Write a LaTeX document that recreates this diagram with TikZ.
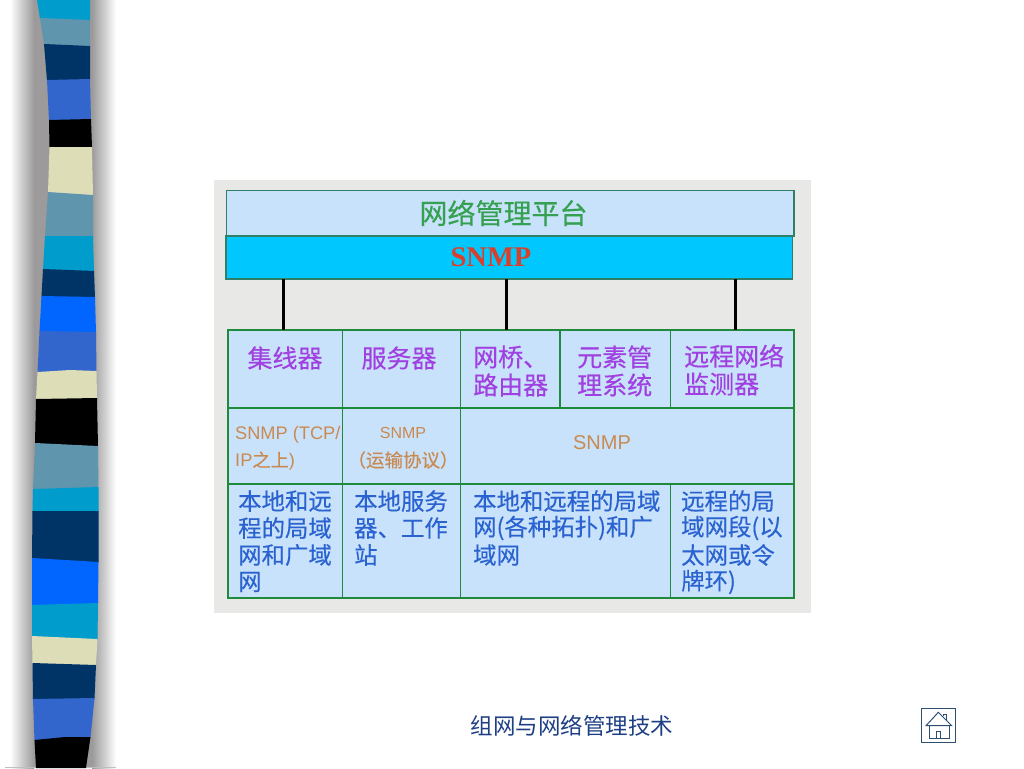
\documentclass[tikz,border=0pt]{standalone}
\usepackage{fontspec}
\setmainfont[FakeBold=0.35]{Noto Sans CJK SC}
\newfontfamily\plaincjk{Noto Sans CJK SC}
\newfontfamily\arialf{Liberation Sans}
\newfontfamily\timesf{Liberation Serif}
\definecolor{cyanb}{HTML}{009CCC}
\definecolor{steel}{HTML}{5F96AE}
\definecolor{navy}{HTML}{003366}
\definecolor{royal}{HTML}{3366CC}
\definecolor{cream}{HTML}{DDDDB8}
\definecolor{bright}{HTML}{0066FF}
\definecolor{shadowg}{HTML}{9C9A9A}
\definecolor{panel}{HTML}{E8E8E6}
\definecolor{cellblue}{HTML}{C8E2FB}
\definecolor{bandcyan}{HTML}{00C8FF}
\definecolor{teal}{HTML}{2F7F68}
\definecolor{gridg}{HTML}{1F8A3C}
\definecolor{titleg}{HTML}{35A050}
\definecolor{redt}{HTML}{D8402C}
\definecolor{purplet}{HTML}{A040E0}
\definecolor{oranget}{HTML}{C88A50}
\definecolor{bluet}{HTML}{2A62D0}
\definecolor{footc}{HTML}{1F3F85}
\definecolor{homec}{HTML}{2F4F70}
\tikzset{
  cellbox/.style={draw=gridg,line width=1.5pt,fill=cellblue,inner sep=0pt,outer sep=0pt},
  topbox/.style={draw=teal,line width=1.5pt,inner sep=0pt,outer sep=0pt},
  conn/.style={draw=black,line width=3pt},
  head/.style={font=\fontsize{25}{27}\selectfont,text=purplet,inner sep=0pt},
  proto/.style={font=\fontsize{18.2}{20}\selectfont,text=oranget,inner sep=0pt},
  body/.style={font=\fontsize{23.4}{25}\selectfont,text=bluet,inner sep=0pt},
  homeline/.style={draw=homec,line width=1pt}
}
\begin{document}
\begin{tikzpicture}[x=1pt,y=-1pt]
\useasboundingbox (0,0) rectangle (1024,768);
\fill[white] (0,0) rectangle (1024,768);
% shadow of the strip
\shade[left color=white,right color=shadowg] (10,0) rectangle (34,768);
\fill[shadowg] (33.5,0) rectangle (92.5,768);
\shade[left color=shadowg,right color=white] (92,0) rectangle (116,768);
\fill[black!25] (5,766.8) rectangle (116,768);
% strip
\fill[cyanb]  (37,0)--(90,0)--(90,20.6)--(40,18.6)--cycle;
\fill[steel]  (40,18)--(90,20)--(90,46.6)--(44,44.6)--cycle;
\fill[navy]   (44,44)--(90,46)--(90,79.6)--(47,80.6)--cycle;
\fill[royal]  (47,80)--(90,79)--(91,119.6)--(49,120.6)--cycle;
\fill[black]  (49,120)--(91,119)--(92,147.6)--(49.5,147.6)--cycle;
\fill[cream]  (49.5,147)--(92,147)--(93,195.6)--(48,192.6)--cycle;
\fill[steel]  (48,192)--(93,195)--(93,236.6)--(45,236.6)--cycle;
\fill[cyanb]  (45,236)--(93,236)--(94,271.6)--(43,269.6)--cycle;
\fill[navy]   (43,269)--(94,271)--(95,297.6)--(41.5,296.6)--cycle;
\fill[bright] (41.5,296)--(95,297)--(96,332.6)--(39.5,331.6)--cycle;
\fill[royal]  (39.5,331)--(96,332)--(96.5,371.6)--(70,370.6)--(37.5,372.6)--cycle;
\fill[cream]  (37.5,372)--(70,370)--(96.5,371)--(97,398.6)--(36,399.6)--cycle;
\fill[black]  (36,399)--(97,398)--(98,446.6)--(35,443.6)--cycle;
\fill[steel]  (35,443)--(98,446)--(98.5,487.6)--(33,489.6)--cycle;
\fill[cyanb]  (33,489)--(98.5,487)--(98.5,511.6)--(32.5,511.6)--cycle;
\fill[navy]   (32.5,511)--(98.5,511)--(98.5,562.6)--(32,558.6)--cycle;
\fill[bright] (32,558)--(98.5,562)--(98,603.6)--(32,605.6)--cycle;
\fill[cyanb]  (32,605)--(98,603)--(97.5,639.6)--(32,636.6)--cycle;
\fill[cream]  (32,636)--(97.5,639)--(96,665.6)--(32.5,663.6)--cycle;
\fill[navy]   (32.5,663)--(96,665)--(94.5,698.6)--(33,699.6)--cycle;
\fill[royal]  (33,699)--(94.5,698)--(90.5,737.6)--(34.5,740.6)--cycle;
\fill[black]  (34.5,740)--(65,737)--(90.5,737)--(86,768)--(36,768)--cycle;
% panel
\fill[panel] (214,180) rectangle (811,613);
% top boxes
\node[topbox,fill=cellblue,minimum width=567.5pt,minimum height=45.5pt] (platform) at (510.25,213.25) {};
\node[font=\fontsize{28}{30}\selectfont,text=titleg,inner sep=0pt] (platformtext) at (503.5,213) {网络管理平台};
\node[topbox,fill=bandcyan,minimum width=566.5pt,minimum height=43pt] (band) at (509.25,257.5) {};
\node[font=\timesf\bfseries\fontsize{28.5}{30}\selectfont,text=redt,inner sep=0pt] (bandtext) at (491,257) {SNMP};
% row 1
\node[cellbox,minimum width=114.5pt,minimum height=78pt] (hub) at (285.25,369) {};
\node[cellbox,minimum width=118pt,minimum height=78pt] (server) at (401.5,369) {};
\node[cellbox,minimum width=99.5pt,minimum height=78pt] (bridge) at (510.25,369) {};
\node[cellbox,minimum width=110.5pt,minimum height=78pt] (element) at (615.25,369) {};
\node[cellbox,minimum width=123.5pt,minimum height=78pt] (remote) at (732.25,369) {};
% row 2
\node[cellbox,minimum width=114.5pt,minimum height=76pt] (p1) at (285.25,446) {};
\node[cellbox,minimum width=118pt,minimum height=76pt] (p2) at (401.5,446) {};
\node[cellbox,minimum width=333.5pt,minimum height=76pt] (p3) at (627.25,446) {};
% row 3
\node[cellbox,minimum width=114.5pt,minimum height=114pt] (s1) at (285.25,541) {};
\node[cellbox,minimum width=118pt,minimum height=114pt] (s2) at (401.5,541) {};
\node[cellbox,minimum width=210pt,minimum height=114pt] (s3) at (565.5,541) {};
\node[cellbox,minimum width=123.5pt,minimum height=114pt] (s4) at (732.25,541) {};
% connectors
\draw[conn] ([xshift=-1.75pt]hub.north |- band.south) -- ([xshift=-1.75pt]hub.north);
\draw[conn] ([xshift=-4.25pt]bridge.north |- band.south) -- ([xshift=-4.25pt]bridge.north);
\draw[conn] ([xshift=2.75pt]remote.north |- band.south) -- ([xshift=2.75pt]remote.north);
% row 1 text
\node[head] (t11) at (285,358) {集线器};
\node[head] (t12) at (399,358) {服务器};
\node[head,anchor=west] (t13a) at (473,357) {网桥、};
\node[head,anchor=west] (t13b) at (473,385) {路由器};
\node[head,anchor=west] (t14a) at (577,357) {元素管};
\node[head,anchor=west] (t14b) at (577,385) {理系统};
\node[head,anchor=west] (t15a) at (684,356) {远程网络};
\node[head,anchor=west] (t15b) at (684,384) {监测器};
% row 2 text
\node[proto,anchor=west] (t21a) at (235,434.5) {\arialf SNMP (TCP/};
\node[proto,anchor=west] (t21b) at (235,461) {\arialf IP\normalfont 之上\arialf )};
\node[proto,font=\arialf\fontsize{16}{18}\selectfont] (t22a) at (403,433) {SNMP};
\node[proto,font=\fontsize{18.5}{20}\selectfont] (t22b) at (403,460) {（运输协议）};
\node[proto,font=\arialf\fontsize{20}{22}\selectfont] (t23) at (602,443) {SNMP};
% row 3 text
\node[body,anchor=west] (a1) at (238,501) {本地和远};
\node[body,anchor=west] (a2) at (238,528) {程的局域};
\node[body,anchor=west] (a3) at (238,555) {网和广域};
\node[body,anchor=west] (a4) at (238,582) {网};
\node[body,anchor=west] (b1) at (354,501) {本地服务};
\node[body,anchor=west] (b2) at (354,528) {器、工作};
\node[body,anchor=west] (b3) at (354,555) {站};
\node[body,anchor=west] (c1) at (473,501) {本地和远程的局域};
\node[body,anchor=west] (c2) at (473,528) {网(各种拓扑)和广};
\node[body,anchor=west] (c3) at (473,555) {域网};
\node[body,anchor=west] (d1) at (681,501) {远程的局};
\node[body,anchor=west] (d2) at (681,528) {域网段(以};
\node[body,anchor=west] (d3) at (681,555) {太网或令};
\node[body,anchor=west] (d4) at (681,582) {牌环)};
% footer
\node[font=\plaincjk\fontsize{22.5}{24}\selectfont,text=footc,inner sep=0pt] (footer) at (572,726) {组网与网络管理技术};
% home icon
\draw[homeline] (921.7,708.3) rectangle (955.7,742.3);
\draw[homeline] (926,725.7) -- (938.3,712.3) -- (951.7,725.7) -- cycle;
\draw[homeline] (929,725.7) rectangle (949,738.3);
\draw[homeline] (936.7,738.3) -- (936.7,731) -- (940.7,731) -- (940.7,738.3);
\draw[homeline] (943.3,716) -- (943.3,714) -- (946.7,714) -- (946.7,719.5);
\end{tikzpicture}
\end{document}
